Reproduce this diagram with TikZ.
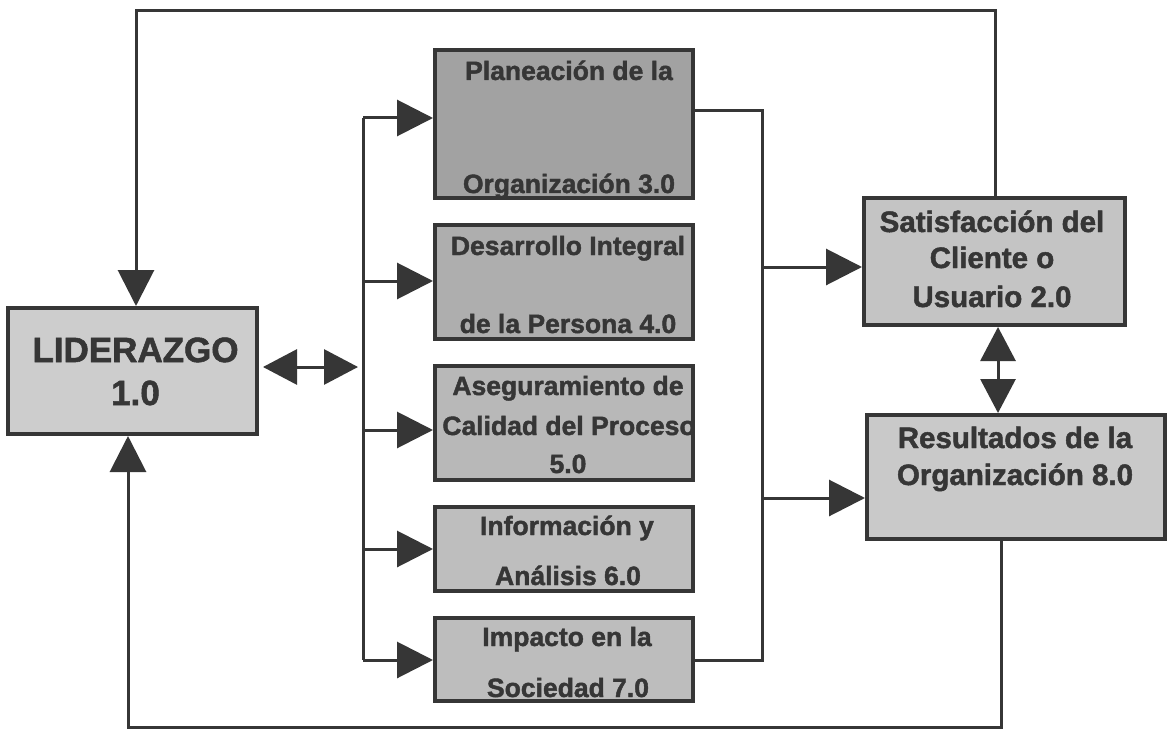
\documentclass[tikz,border=0pt]{standalone}
\usepackage{fontspec}
\setmainfont{Liberation Sans}[BoldFeatures={FakeBold=1.6}]
\usetikzlibrary{arrows.meta}
\definecolor{ink}{HTML}{363636}
\definecolor{fA}{HTML}{A2A2A2}
\definecolor{fB}{HTML}{AEAEAE}
\definecolor{fC}{HTML}{B8B8B8}
\definecolor{fD}{HTML}{BEBEBE}
\definecolor{fE}{HTML}{BDBDBD}
\definecolor{fL}{HTML}{CDCDCD}
\definecolor{fS}{HTML}{C4C4C4}
\definecolor{fR}{HTML}{C9C9C9}
\tikzset{
  box/.style={draw=ink, line width=4pt, rectangle, inner sep=0pt},
  wire/.style={draw=ink, line width=3pt},
  arr/.style={wire, -{Triangle[length=36pt,width=36pt]}},
  dbl/.style={wire, {Triangle[length=34pt,width=35pt]}-{Triangle[length=34pt,width=35pt]}},
  midtxt/.style={anchor=base, text=ink, inner sep=0pt, font=\bfseries\fontsize{26.5}{30}\selectfont},
  rtxt/.style={anchor=base, text=ink, inner sep=0pt, font=\bfseries\fontsize{29.5}{34}\selectfont},
  ltxt/.style={anchor=base, text=ink, inner sep=0pt, font=\bfseries\fontsize{35}{40}\selectfont},
}
\begin{document}
\begin{tikzpicture}[x=1pt,y=-1pt]
\useasboundingbox[fill=white] (0,0) rectangle (1169,730);
% boxes
\node[box, fill=fL, minimum width=249pt, minimum height=126pt] (lid) at (132.5,371) {};
\node[box, fill=fA, minimum width=258pt, minimum height=148pt] (p3) at (564,124) {};
\node[box, fill=fB, minimum width=258pt, minimum height=114pt] (p4) at (564,282) {};
\node[box, fill=fC, minimum width=258pt, minimum height=114pt] (p5) at (564,423) {};
\node[box, fill=fD, minimum width=258pt, minimum height=84pt] (p6) at (564,549) {};
\node[box, fill=fE, minimum width=258pt, minimum height=83pt] (p7) at (564,659.5) {};
\node[box, fill=fS, minimum width=261pt, minimum height=127pt] (s2) at (994.5,261.5) {};
\node[box, fill=fR, minimum width=298pt, minimum height=124pt] (r8) at (1016,477) {};
% texts
\node[ltxt] (l1) at (135.5,362) {LIDERAZGO};
\node[ltxt] (l2) at (135.5,405) {1.0};
\node[midtxt] (t3a) at (569,80) {Planeación de la};
\node[midtxt] (t3b) at (569,193) {Organización 3.0};
\node[midtxt] (t4a) at (568,255) {Desarrollo Integral};
\node[midtxt] (t4b) at (568,333) {de la Persona 4.0};
\node[midtxt] (t5a) at (568,395) {Aseguramiento de};
\node[midtxt] (t5b) at (569,435) {Calidad del Proceso};
\node[midtxt] (t5c) at (568,473) {5.0};
\node[midtxt] (t6a) at (567,535) {Información y};
\node[midtxt] (t6b) at (568,585) {Análisis 6.0};
\node[midtxt] (t7a) at (567,646) {Impacto en la};
\node[midtxt] (t7b) at (568,697) {Sociedad 7.0};
\node[rtxt] (s2a) at (992,232) {Satisfacción del};
\node[rtxt] (s2b) at (992,268) {Cliente o};
\node[rtxt] (s2c) at (992,307) {Usuario 2.0};
\node[rtxt] (r8a) at (1015,448) {Resultados de la};
\node[rtxt] (r8b) at (1015,485) {Organización 8.0};
% coordinates
\coordinate (topR) at (995,11);
\coordinate (topL) at (136,11);
\coordinate (botR) at (1001,727);
\coordinate (botL) at (128,727);
\coordinate (bt) at (363,118);
\coordinate (bb) at (363,660);
\coordinate (ct) at (762,111);
\coordinate (cb) at (762,660);
\coordinate (dl) at (263,367);
\coordinate (dr) at (358,367);
% feedback loops
\draw[arr] (topR |- s2.north) -- (topR) -- (topL) -- (topL |- lid.north);
\draw[arr] (botR |- r8.south) -- (botR) -- (botL) -- (botL |- lid.south);
% leadership <-> branch
\draw[dbl] (dl) -- (dr);
% branch
\draw[wire] (bt) -- (bb);
\draw[arr] (bt) -- (bt -| p3.west);
\draw[arr] (363,281) -- (p4.west |- 0,281);
\draw[arr] (363,430) -- (p5.west |- 0,430);
\draw[arr] (363,549) -- (p6.west |- 0,549);
\draw[arr] (bb) -- (bb -| p7.west);
% collector
\draw[wire] (p3.east |- ct) -- (ct) -- (cb) -- (p7.east |- cb);
\draw[arr] (762,267) -- (s2.west |- 0,267);
\draw[arr] (762,498) -- (r8.west |- 0,498);
% s2 <-> r8
\draw[dbl] (998,327) -- (998,413);
\end{tikzpicture}
\end{document}
